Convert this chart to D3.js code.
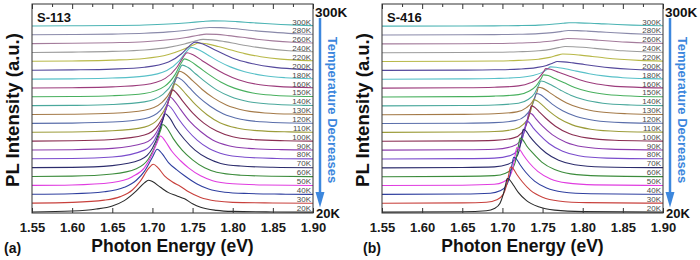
<!DOCTYPE html>
<html>
<head>
<meta charset="utf-8">
<script src="https://cdn.jsdelivr.net/npm/d3@7"></script>
<style>
  body { margin: 0; background: #fff; }
  svg { display: block; font-family: 'Liberation Sans', Arial, sans-serif; }
</style>
</head>
<body>
<div id="chart"></div>
<script>
// temperatures, bottom curve first
const temps = ['20K','30K','40K','50K','60K','70K','80K','90K','100K','110K','120K','130K','140K','150K','160K','180K','200K','220K','240K','260K','280K','300K']
const energyTicks = [1.55, 1.60, 1.65, 1.70, 1.75, 1.80, 1.85, 1.90]
const lineColors = ['#2b2b2b','#c8403c','#2f3f9f','#e03ce0','#3c8c3c','#2c2c6c','#7a4ccc','#8c3cae','#8a2e52','#9c9c3a','#5a6eaa','#a47a48','#4aa89c','#48b05e','#9c3c7c','#58c0c8','#54489c','#b8b848','#9c9c9c','#a47c9c','#8a8aaa','#4cb4b4']

// S-113 spectra, [energy eV, intensity] (one unit = one stacking step)
const spectraA = [
  [[1.55,0.02],[1.60,0.12],[1.63,0.35],[1.65,0.7],[1.665,1.3],[1.68,2.4],[1.69,3.3],[1.695,3.6],[1.70,3.45],[1.71,2.8],[1.72,2.2],[1.73,1.85],[1.74,1.5],[1.75,0.95],[1.76,0.55],[1.78,0.2],[1.80,0.08],[1.85,0.02],[1.90,0]],
  [[1.55,0.02],[1.60,0.1],[1.64,0.35],[1.66,0.75],[1.675,1.5],[1.685,2.5],[1.695,3.9],[1.701,4.4],[1.707,4.0],[1.715,3.1],[1.725,2.4],[1.735,1.9],[1.745,1.3],[1.76,0.65],[1.78,0.25],[1.80,0.1],[1.85,0.03],[1.90,0]],
  [[1.55,0.02],[1.60,0.08],[1.64,0.3],[1.665,0.8],[1.68,1.6],[1.69,2.6],[1.70,4.2],[1.706,5.1],[1.712,4.6],[1.72,3.6],[1.73,2.8],[1.74,2.1],[1.755,1.2],[1.77,0.6],[1.79,0.25],[1.82,0.1],[1.86,0.03],[1.90,0]],
  [[1.55,0.02],[1.60,0.07],[1.65,0.35],[1.675,1.0],[1.69,2.0],[1.70,3.6],[1.706,4.9],[1.710,5.6],[1.716,5.0],[1.724,3.9],[1.735,2.8],[1.745,2.0],[1.76,1.1],[1.775,0.55],[1.80,0.2],[1.84,0.06],[1.90,0.01]],
  [[1.55,0.02],[1.60,0.06],[1.65,0.3],[1.68,0.9],[1.695,2.0],[1.705,3.8],[1.710,5.2],[1.713,5.9],[1.718,5.5],[1.726,4.3],[1.737,3.0],[1.75,1.9],[1.765,1.0],[1.78,0.5],[1.81,0.17],[1.85,0.05],[1.90,0.01]],
  [[1.55,0.02],[1.60,0.05],[1.65,0.25],[1.685,0.9],[1.70,2.2],[1.708,3.9],[1.713,5.4],[1.716,6.1],[1.721,5.7],[1.729,4.5],[1.74,3.2],[1.753,2.0],[1.768,1.1],[1.785,0.5],[1.81,0.2],[1.85,0.06],[1.90,0.01]],
  [[1.55,0.02],[1.60,0.05],[1.65,0.22],[1.69,1.0],[1.703,2.2],[1.711,3.9],[1.716,5.4],[1.719,6.1],[1.724,5.7],[1.732,4.6],[1.743,3.3],[1.756,2.1],[1.771,1.15],[1.79,0.5],[1.815,0.2],[1.855,0.06],[1.90,0.01]],
  [[1.55,0.02],[1.60,0.05],[1.65,0.2],[1.69,0.8],[1.705,2.0],[1.714,3.8],[1.719,5.3],[1.722,6.0],[1.727,5.6],[1.735,4.6],[1.746,3.3],[1.76,2.1],[1.775,1.15],[1.795,0.5],[1.82,0.2],[1.86,0.06],[1.90,0.02]],
  [[1.55,0.02],[1.60,0.05],[1.65,0.2],[1.69,0.7],[1.707,1.8],[1.717,3.6],[1.722,5.1],[1.725,5.8],[1.730,5.45],[1.738,4.5],[1.75,3.2],[1.764,2.05],[1.78,1.15],[1.80,0.5],[1.825,0.2],[1.865,0.06],[1.90,0.02]],
  [[1.55,0.02],[1.60,0.05],[1.65,0.18],[1.69,0.6],[1.708,1.6],[1.719,3.3],[1.725,4.8],[1.728,5.5],[1.733,5.2],[1.742,4.3],[1.754,3.1],[1.768,2.0],[1.784,1.1],[1.805,0.5],[1.83,0.2],[1.87,0.06],[1.90,0.02]],
  [[1.55,0.02],[1.60,0.05],[1.65,0.17],[1.69,0.55],[1.71,1.5],[1.721,3.1],[1.727,4.5],[1.731,5.2],[1.737,4.9],[1.746,4.05],[1.758,2.95],[1.772,1.95],[1.788,1.1],[1.81,0.48],[1.835,0.2],[1.875,0.06],[1.90,0.03]],
  [[1.55,0.02],[1.60,0.05],[1.65,0.16],[1.69,0.5],[1.712,1.4],[1.724,2.9],[1.730,4.25],[1.734,4.9],[1.740,4.65],[1.75,3.85],[1.762,2.85],[1.776,1.9],[1.792,1.1],[1.815,0.48],[1.84,0.2],[1.88,0.06],[1.90,0.03]],
  [[1.55,0.02],[1.60,0.05],[1.65,0.15],[1.69,0.45],[1.713,1.3],[1.726,2.7],[1.733,4.0],[1.737,4.6],[1.744,4.35],[1.754,3.6],[1.766,2.7],[1.78,1.8],[1.797,1.05],[1.82,0.47],[1.845,0.2],[1.885,0.06],[1.90,0.04]],
  [[1.55,0.02],[1.60,0.05],[1.65,0.14],[1.69,0.4],[1.715,1.2],[1.728,2.5],[1.735,3.7],[1.740,4.3],[1.747,4.05],[1.758,3.35],[1.771,2.5],[1.785,1.7],[1.802,1.0],[1.825,0.45],[1.85,0.2],[1.89,0.06],[1.90,0.05]],
  [[1.55,0.02],[1.60,0.05],[1.65,0.14],[1.69,0.38],[1.716,1.1],[1.730,2.3],[1.738,3.45],[1.743,4.0],[1.750,3.8],[1.762,3.1],[1.776,2.3],[1.79,1.6],[1.807,0.95],[1.83,0.43],[1.855,0.2],[1.90,0.05]],
  [[1.55,0.02],[1.60,0.05],[1.65,0.14],[1.69,0.36],[1.718,1.0],[1.733,2.05],[1.742,3.1],[1.748,3.6],[1.756,3.4],[1.768,2.8],[1.782,2.05],[1.797,1.4],[1.815,0.85],[1.84,0.4],[1.865,0.18],[1.90,0.06]],
  [[1.55,0.02],[1.60,0.06],[1.65,0.15],[1.69,0.36],[1.72,0.95],[1.736,1.85],[1.746,2.75],[1.753,3.2],[1.762,3.0],[1.775,2.45],[1.79,1.8],[1.806,1.2],[1.825,0.75],[1.85,0.37],[1.875,0.17],[1.90,0.07]],
  [[1.55,0.03],[1.60,0.07],[1.65,0.16],[1.69,0.35],[1.72,0.8],[1.738,1.35],[1.75,1.85],[1.758,2.1],[1.768,2.0],[1.782,1.7],[1.798,1.3],[1.815,0.9],[1.835,0.55],[1.86,0.28],[1.88,0.16],[1.90,0.09]],
  [[1.55,0.03],[1.60,0.07],[1.65,0.15],[1.69,0.3],[1.72,0.6],[1.74,0.98],[1.753,1.32],[1.763,1.5],[1.775,1.45],[1.79,1.25],[1.806,0.98],[1.825,0.68],[1.845,0.43],[1.87,0.22],[1.90,0.1]],
  [[1.55,0.03],[1.60,0.06],[1.65,0.13],[1.69,0.24],[1.72,0.46],[1.742,0.72],[1.757,0.97],[1.767,1.1],[1.78,1.07],[1.795,0.93],[1.812,0.74],[1.83,0.52],[1.85,0.34],[1.875,0.18],[1.90,0.09]],
  [[1.55,0.03],[1.60,0.05],[1.65,0.1],[1.69,0.19],[1.72,0.35],[1.745,0.57],[1.76,0.76],[1.771,0.85],[1.785,0.83],[1.80,0.73],[1.818,0.57],[1.836,0.41],[1.856,0.27],[1.88,0.14],[1.90,0.08]],
  [[1.55,0.02],[1.60,0.04],[1.65,0.07],[1.69,0.13],[1.72,0.24],[1.745,0.39],[1.762,0.52],[1.775,0.6],[1.79,0.58],[1.805,0.51],[1.822,0.4],[1.84,0.29],[1.86,0.19],[1.88,0.11],[1.90,0.06]]
]

// S-416 spectra
const spectraB = [
  [[1.55,0],[1.65,0.04],[1.68,0.15],[1.69,0.4],[1.697,1.0],[1.701,2.0],[1.704,3.1],[1.706,3.8],[1.709,3.65],[1.714,3.0],[1.72,2.2],[1.73,1.3],[1.745,0.6],[1.765,0.22],[1.80,0.06],[1.90,0]],
  [[1.55,0],[1.65,0.04],[1.68,0.12],[1.693,0.4],[1.701,1.0],[1.705,2.0],[1.708,3.3],[1.710,4.1],[1.713,3.95],[1.718,3.25],[1.725,2.4],[1.735,1.45],[1.75,0.68],[1.77,0.26],[1.805,0.07],[1.90,0.01]],
  [[1.55,0],[1.65,0.04],[1.685,0.13],[1.697,0.4],[1.705,1.0],[1.709,2.0],[1.712,3.4],[1.714,4.2],[1.717,4.05],[1.722,3.35],[1.729,2.5],[1.74,1.5],[1.755,0.72],[1.775,0.28],[1.81,0.08],[1.90,0.01]],
  [[1.55,0],[1.65,0.04],[1.69,0.14],[1.701,0.4],[1.709,1.0],[1.713,2.0],[1.716,3.5],[1.718,4.3],[1.721,4.15],[1.726,3.45],[1.733,2.6],[1.744,1.6],[1.76,0.75],[1.78,0.3],[1.815,0.08],[1.90,0.01]],
  [[1.55,0],[1.65,0.04],[1.69,0.12],[1.704,0.4],[1.713,1.0],[1.717,2.0],[1.720,3.5],[1.722,4.35],[1.725,4.2],[1.73,3.5],[1.738,2.65],[1.749,1.65],[1.765,0.8],[1.785,0.32],[1.82,0.09],[1.90,0.01]],
  [[1.55,0],[1.65,0.04],[1.69,0.11],[1.707,0.4],[1.716,1.0],[1.721,2.0],[1.724,3.5],[1.726,4.35],[1.729,4.2],[1.734,3.55],[1.742,2.7],[1.754,1.7],[1.77,0.85],[1.79,0.35],[1.825,0.1],[1.90,0.02]],
  [[1.55,0],[1.65,0.04],[1.69,0.1],[1.71,0.4],[1.719,1.0],[1.724,2.0],[1.728,3.5],[1.730,4.3],[1.733,4.15],[1.738,3.55],[1.746,2.75],[1.758,1.75],[1.775,0.88],[1.795,0.37],[1.83,0.1],[1.90,0.02]],
  [[1.55,0],[1.65,0.04],[1.69,0.1],[1.712,0.4],[1.722,1.0],[1.727,2.0],[1.731,3.45],[1.733,4.2],[1.737,4.05],[1.742,3.5],[1.75,2.7],[1.762,1.75],[1.779,0.9],[1.80,0.38],[1.835,0.11],[1.90,0.02]],
  [[1.55,0],[1.65,0.04],[1.69,0.1],[1.714,0.38],[1.724,0.95],[1.73,1.9],[1.734,3.3],[1.736,4.0],[1.740,3.85],[1.746,3.3],[1.754,2.6],[1.766,1.7],[1.783,0.88],[1.805,0.38],[1.84,0.11],[1.90,0.02]],
  [[1.55,0],[1.65,0.04],[1.69,0.1],[1.715,0.35],[1.726,0.9],[1.733,1.8],[1.737,3.05],[1.739,3.7],[1.743,3.57],[1.75,3.05],[1.758,2.4],[1.77,1.6],[1.787,0.85],[1.81,0.36],[1.845,0.11],[1.90,0.03]],
  [[1.55,0],[1.65,0.04],[1.69,0.1],[1.716,0.33],[1.728,0.85],[1.735,1.65],[1.74,2.8],[1.742,3.4],[1.747,3.28],[1.754,2.8],[1.762,2.2],[1.775,1.45],[1.792,0.8],[1.815,0.35],[1.85,0.11],[1.90,0.03]],
  [[1.55,0],[1.65,0.04],[1.69,0.1],[1.718,0.32],[1.73,0.8],[1.738,1.55],[1.743,2.55],[1.745,3.1],[1.75,3.0],[1.758,2.55],[1.767,2.0],[1.78,1.33],[1.797,0.75],[1.82,0.33],[1.855,0.11],[1.90,0.03]],
  [[1.55,0],[1.65,0.04],[1.69,0.1],[1.72,0.3],[1.732,0.72],[1.74,1.4],[1.745,2.3],[1.748,2.8],[1.753,2.7],[1.762,2.3],[1.772,1.8],[1.785,1.2],[1.802,0.68],[1.825,0.3],[1.86,0.1],[1.90,0.03]],
  [[1.55,0],[1.65,0.04],[1.69,0.1],[1.72,0.27],[1.733,0.65],[1.742,1.25],[1.748,2.05],[1.751,2.5],[1.757,2.42],[1.766,2.05],[1.777,1.6],[1.79,1.08],[1.807,0.62],[1.83,0.28],[1.865,0.09],[1.90,0.03]],
  [[1.55,0],[1.65,0.04],[1.69,0.1],[1.72,0.25],[1.735,0.6],[1.745,1.12],[1.751,1.8],[1.754,2.2],[1.76,2.13],[1.77,1.8],[1.782,1.4],[1.796,0.95],[1.813,0.55],[1.835,0.26],[1.87,0.09],[1.90,0.03]],
  [[1.55,0],[1.65,0.04],[1.69,0.09],[1.72,0.2],[1.738,0.42],[1.749,0.75],[1.756,1.15],[1.760,1.4],[1.767,1.36],[1.778,1.18],[1.792,0.92],[1.808,0.63],[1.826,0.38],[1.85,0.18],[1.88,0.07],[1.90,0.04]],
  [[1.55,0],[1.65,0.03],[1.69,0.07],[1.72,0.15],[1.742,0.32],[1.755,0.56],[1.763,0.84],[1.768,1.0],[1.776,0.97],[1.788,0.85],[1.802,0.67],[1.818,0.47],[1.836,0.29],[1.86,0.14],[1.885,0.06],[1.90,0.04]],
  [[1.55,0],[1.65,0.03],[1.69,0.06],[1.72,0.13],[1.745,0.27],[1.759,0.47],[1.768,0.7],[1.775,0.85],[1.784,0.83],[1.797,0.73],[1.812,0.58],[1.828,0.41],[1.846,0.26],[1.87,0.13],[1.90,0.05]],
  [[1.55,0],[1.65,0.03],[1.69,0.05],[1.72,0.11],[1.745,0.22],[1.76,0.38],[1.77,0.57],[1.778,0.7],[1.788,0.68],[1.80,0.61],[1.815,0.49],[1.832,0.35],[1.85,0.22],[1.875,0.11],[1.90,0.05]],
  [[1.55,0],[1.65,0.02],[1.69,0.04],[1.72,0.09],[1.745,0.18],[1.762,0.32],[1.773,0.49],[1.781,0.6],[1.791,0.58],[1.804,0.52],[1.82,0.41],[1.837,0.3],[1.855,0.19],[1.88,0.09],[1.90,0.05]],
  [[1.55,0],[1.65,0.02],[1.69,0.04],[1.72,0.08],[1.745,0.15],[1.762,0.27],[1.774,0.41],[1.782,0.5],[1.793,0.49],[1.806,0.44],[1.822,0.35],[1.84,0.25],[1.86,0.16],[1.88,0.09],[1.90,0.05]],
  [[1.55,0],[1.65,0.02],[1.69,0.03],[1.72,0.06],[1.745,0.12],[1.762,0.21],[1.775,0.32],[1.783,0.38],[1.795,0.37],[1.81,0.33],[1.826,0.26],[1.843,0.19],[1.862,0.12],[1.88,0.07],[1.90,0.04]]
]

const width = 700, height = 260
const svg = d3.select('#chart')
  .append('svg')
  .attr('width', width)
  .attr('height', height)

const arrowBlue = '#3d87dd'

function drawPanel(left, sample, tag, tagX, spectra) {
  const g = svg.append('g').attr('transform', 'translate(' + left + ',0)')

  var x = d3.scaleLinear().domain([1.55, 1.90]).range([32, 313])
  var y = d3.scaleLinear().domain([-0.1, 23.5]).range([213, 4])

  // stacked spectra, low temperature drawn last
  const line = d3.line()
    .x(d => x(d[0]))
    .y(d => y(d[1]))
    .curve(d3.curveMonotoneX)

  for (let i = temps.length - 1; i >= 0; i--) {
    g.append('path')
      .datum(spectra[i].map(p => [p[0], p[1] + i]))
      .attr('fill', 'none')
      .attr('stroke', lineColors[i])
      .attr('stroke-width', 1.1)
      .attr('d', line)
  }

  // temperature labels at the right end of each curve
  g.selectAll('.tlabel')
    .data(temps)
    .enter().append('text')
    .attr('x', 311)
    .attr('y', (d, i) => y(i) - 1.5)
    .attr('text-anchor', 'end')
    .attr('font-size', 8)
    .attr('fill', '#4a4a4a')
    .text(d => d)

  // frame
  g.append('rect')
    .attr('x', 32).attr('y', 4)
    .attr('width', 281).attr('height', 209)
    .attr('fill', 'none')
    .attr('stroke', '#333')
    .attr('stroke-width', 1)

  // bottom axis
  const bottom = g.append('g')
    .attr('transform', 'translate(0,213)')
    .call(d3.axisBottom(x)
      .tickValues(energyTicks)
      .tickFormat(d3.format('.2f'))
      .tickSizeInner(-5)
      .tickSizeOuter(0)
      .tickPadding(10))
  bottom.select('.domain').remove()
  bottom.selectAll('line').attr('stroke', '#333')
  bottom.selectAll('text')
    .attr('font-size', 13)
    .attr('font-weight', 'bold')
    .attr('font-family', "'Liberation Sans', Arial, sans-serif")
    .attr('fill', '#1a1a1a')

  // top axis, ticks only
  const top = g.append('g')
    .attr('transform', 'translate(0,4)')
    .call(d3.axisTop(x).tickValues(energyTicks).tickSize(-5).tickFormat(''))
  top.select('.domain').remove()
  top.selectAll('line').attr('stroke', '#333')
  const minorTicks = energyTicks.slice(1).map(d => d - 0.025)
  const topMinor = g.append('g')
    .attr('transform', 'translate(0,4)')
    .call(d3.axisTop(x).tickValues(minorTicks).tickSize(-3).tickFormat(''))
  topMinor.select('.domain').remove()
  topMinor.selectAll('line').attr('stroke', '#333')

  // titles
  g.append('text')
    .attr('x', 172.5).attr('y', 252)
    .attr('text-anchor', 'middle')
    .attr('font-size', 17.5)
    .attr('font-weight', 'bold')
    .attr('fill', '#111')
    .text('Photon Energy (eV)')

  g.append('text')
    .attr('transform', 'translate(18.5,110)rotate(-90)')
    .attr('text-anchor', 'middle')
    .attr('font-size', 18.5)
    .attr('font-weight', 'bold')
    .attr('fill', '#111')
    .text('PL Intensity (a.u.)')

  g.append('text')
    .attr('x', tagX).attr('y', 253)
    .attr('font-size', 14)
    .attr('font-weight', 'bold')
    .attr('fill', '#111')
    .text(tag)

  g.append('text')
    .attr('x', 37).attr('y', 22)
    .attr('font-size', 13)
    .attr('font-weight', 'bold')
    .attr('fill', '#111')
    .text(sample)

  // temperature arrow on the right
  g.append('text')
    .attr('x', 315).attr('y', 17)
    .attr('font-size', 13.5)
    .attr('font-weight', 'bold')
    .attr('fill', '#111')
    .text(temps[temps.length - 1])

  g.append('text')
    .attr('x', 316).attr('y', 217.5)
    .attr('font-size', 13)
    .attr('font-weight', 'bold')
    .attr('fill', '#111')
    .text(temps[0])

  g.append('line')
    .attr('x1', 320).attr('x2', 320)
    .attr('y1', 18).attr('y2', 194)
    .attr('stroke', arrowBlue)
    .attr('stroke-width', 2.5)

  g.append('path')
    .attr('d', 'M315.5,192 L324.5,192 L320,207.5 Z')
    .attr('fill', arrowBlue)

  g.append('text')
    .attr('transform', 'translate(327.5,110)rotate(90)')
    .attr('text-anchor', 'middle')
    .attr('font-size', 13)
    .attr('font-weight', 'bold')
    .attr('fill', arrowBlue)
    .text('Temperature Decreases')
}

drawPanel(0, 'S-113', '(a)', 4, spectraA)
drawPanel(350, 'S-416', '(b)', 13, spectraB)
</script>
</body>
</html>
